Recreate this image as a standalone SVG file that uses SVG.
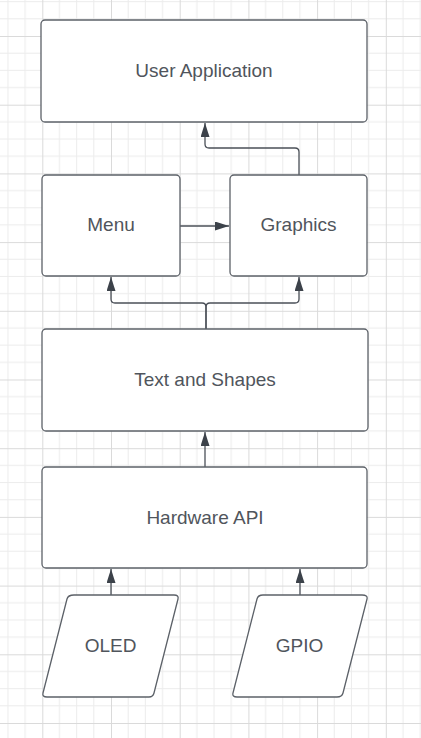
<svg xmlns="http://www.w3.org/2000/svg" width="421" height="738" viewBox="0 0 421 738">
<style>
.box{fill:#ffffff;stroke:#5c6168;stroke-width:1.3}
.lbl{font-family:"Liberation Sans",Arial,sans-serif;font-size:19px;fill:#50555c;text-anchor:middle}
.con{fill:none;stroke:#4b5058;stroke-width:1.3}
</style>
<defs>
<pattern id="grid" patternUnits="userSpaceOnUse" x="42.3" y="36" width="68.7" height="68.7">
<path d="M17.175 0V68.7M34.35 0V68.7M51.525 0V68.7M0 17.175H68.7M0 34.35H68.7M0 51.525H68.7" stroke="#ececec" stroke-width="1" fill="none"/>
<path d="M0.5 0V68.7M0 0.5H68.7" stroke="#dadada" stroke-width="1" fill="none"/>
</pattern>
<marker id="ah" markerUnits="userSpaceOnUse" markerWidth="14" markerHeight="9" refX="14" refY="4.5" orient="auto">
<path d="M0 0L14 4.5L0 9z" fill="#3c424a"/>
</marker>
</defs>
<rect width="421" height="738" fill="#ffffff"/>
<rect width="421" height="738" fill="url(#grid)"/>
<g id="connectors">
<path class="con" d="M299 175V152Q299 148 295 148H209Q205 148 205 144V123" marker-end="url(#ah)"/>
<path class="con" d="M180 226H229" marker-end="url(#ah)"/>
<path class="con" d="M206 329V307Q206 303 202 303H115Q111 303 111 299V277" marker-end="url(#ah)"/>
<path class="con" d="M206 329V307Q206 303 210 303H295Q299 303 299 299V277" marker-end="url(#ah)"/>
<path class="con" d="M205 467V432" marker-end="url(#ah)"/>
<path class="con" d="M111 595V569" marker-end="url(#ah)"/>
<path class="con" d="M300 595V569" marker-end="url(#ah)"/>
</g>
<g id="user-application">
<rect class="box" x="41" y="20" width="326" height="102" rx="4"/>
<text class="lbl" x="204" y="77">User Application</text>
</g>
<g id="menu">
<rect class="box" x="42" y="175" width="138" height="101" rx="4"/>
<text class="lbl" x="111" y="231">Menu</text>
</g>
<g id="graphics">
<rect class="box" x="230" y="175" width="137" height="101" rx="4"/>
<text class="lbl" x="298.5" y="231">Graphics</text>
</g>
<g id="text-and-shapes">
<rect class="box" x="42" y="329" width="326" height="102" rx="4"/>
<text class="lbl" x="205" y="386">Text and Shapes</text>
</g>
<g id="hardware-api">
<rect class="box" x="42" y="467" width="325" height="101" rx="4"/>
<text class="lbl" x="205" y="524">Hardware API</text>
</g>
<g id="oled">
<path class="box" d="M74 595H174Q179 595 178 599L154 693Q153 697 149 697H47Q42 697 43 693L67 599Q68 595 74 595Z"/>
<text class="lbl" x="110.5" y="652">OLED</text>
</g>
<g id="gpio">
<path class="box" d="M263 595H362Q368 595 367 599L343 693Q342 697 337 697H237Q232 697 233 693L257 599Q258 595 263 595Z"/>
<text class="lbl" x="299.5" y="652">GPIO</text>
</g>
</svg>
